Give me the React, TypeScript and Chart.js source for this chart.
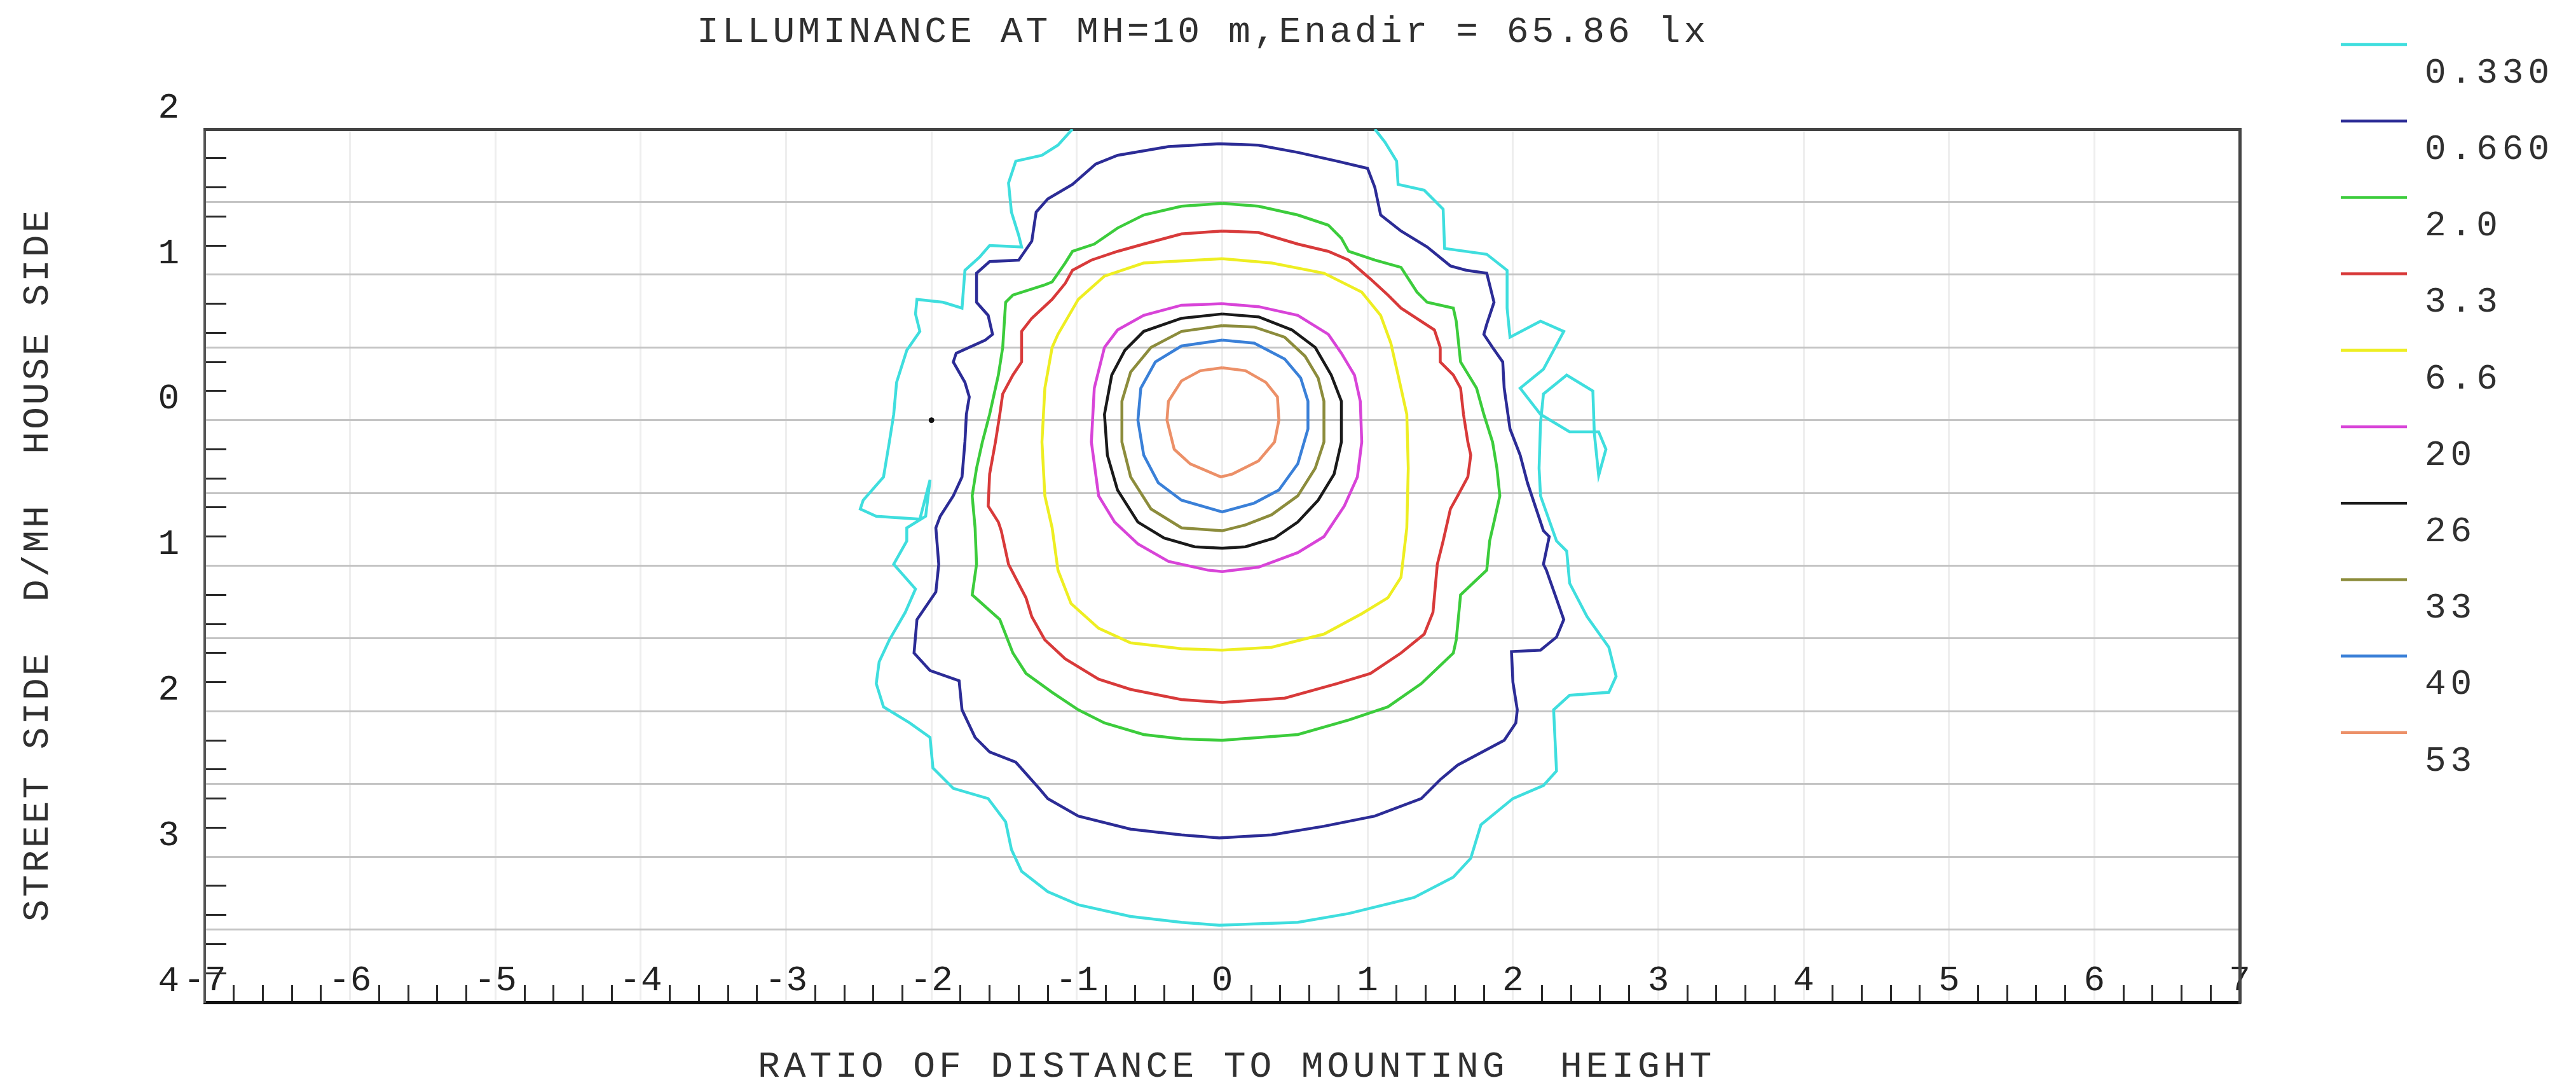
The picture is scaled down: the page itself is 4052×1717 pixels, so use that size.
import React, { useEffect, useRef } from 'react';
import { Chart, registerables } from 'chart.js';

Chart.register(...registerables);

const W = 4052;
const H = 1717;
const FONT = "'Liberation Mono', 'DejaVu Sans Mono', monospace";

// ---- texts ----
const chartTitle = 'ILLUMINANCE AT MH=10 m,Enadir = 65.86 lx';
const xAxisTitle = 'RATIO OF DISTANCE TO MOUNTING  HEIGHT';
const yAxisTitle = 'STREET SIDE  D/MH  HOUSE SIDE';

// ---- iso-lux levels ----
const levelLabels = ['0.330', '0.660', '2.0', '3.3', '6.6', '20', '26', '33', '40', '53'];
const levelColors = ['#3fdede', '#2c2c96', '#3ccc3c', '#d83a3a', '#eeee22', '#d844d8', '#1a1a1a', '#8c8c3c', '#3a80d8', '#ec9068'];

// ---- contour lines (x = D/MH across, y = D/MH house(+) / street(-)) ----
const iso0330 = [
  [-1.03, 2.0], [-1.13, 1.89], [-1.24, 1.82], [-1.42, 1.78], [-1.47, 1.63], [-1.45, 1.43], [-1.40, 1.27], [-1.38, 1.19],
  [-1.60, 1.20], [-1.67, 1.12], [-1.77, 1.03], [-1.79, 0.77], [-1.92, 0.81], [-2.10, 0.83], [-2.11, 0.73], [-2.08, 0.61],
  [-2.17, 0.48], [-2.24, 0.26], [-2.26, 0.04], [-2.29, -0.15], [-2.33, -0.39], [-2.47, -0.55], [-2.49, -0.61], [-2.38, -0.66],
  [-2.08, -0.68], [-2.01, -0.41], [-2.04, -0.66], [-2.17, -0.74], [-2.17, -0.83], [-2.26, -0.99], [-2.11, -1.16], [-2.18, -1.32],
  [-2.29, -1.51], [-2.36, -1.66], [-2.38, -1.81], [-2.33, -1.97], [-2.15, -2.08], [-2.01, -2.18], [-1.99, -2.39], [-1.85, -2.53],
  [-1.61, -2.60], [-1.49, -2.76], [-1.45, -2.95], [-1.38, -3.10], [-1.20, -3.24], [-0.99, -3.33], [-0.63, -3.41], [-0.28, -3.45],
  [-0.02, -3.47], [0.52, -3.45], [0.87, -3.39], [1.32, -3.28], [1.59, -3.14], [1.71, -3.01], [1.78, -2.78], [2.00, -2.60],
  [2.21, -2.51], [2.30, -2.41], [2.28, -1.99], [2.39, -1.89], [2.66, -1.87], [2.71, -1.76], [2.66, -1.56], [2.51, -1.35],
  [2.39, -1.12], [2.37, -0.90], [2.30, -0.83], [2.19, -0.52], [2.18, -0.33], [2.19, -0.02], [2.21, 0.18], [2.37, 0.31],
  [2.55, 0.20], [2.56, -0.09], [2.59, -0.38], [2.64, -0.20], [2.59, -0.08], [2.39, -0.08], [2.19, 0.04], [2.05, 0.22],
  [2.21, 0.35], [2.35, 0.61], [2.19, 0.68], [1.98, 0.57], [1.96, 0.77], [1.96, 1.03], [1.82, 1.14], [1.53, 1.18],
  [1.52, 1.45], [1.39, 1.58], [1.21, 1.62], [1.20, 1.78], [1.12, 1.91], [1.05, 2.0],
];
const iso0660 = [
  [-0.02, 1.90], [-0.37, 1.88], [-0.72, 1.82], [-0.87, 1.76], [-1.03, 1.62], [-1.20, 1.52], [-1.28, 1.43], [-1.31, 1.23],
  [-1.40, 1.10], [-1.60, 1.09], [-1.69, 1.01], [-1.69, 0.81], [-1.61, 0.72], [-1.58, 0.59], [-1.63, 0.55], [-1.83, 0.46],
  [-1.85, 0.40], [-1.77, 0.26], [-1.74, 0.16], [-1.76, 0.04], [-1.77, -0.15], [-1.79, -0.39], [-1.85, -0.52], [-1.94, -0.66],
  [-1.97, -0.74], [-1.95, -0.99], [-1.97, -1.18], [-2.10, -1.37], [-2.12, -1.60], [-2.01, -1.72], [-1.81, -1.79], [-1.79, -1.99],
  [-1.70, -2.18], [-1.60, -2.28], [-1.42, -2.35], [-1.26, -2.53], [-1.20, -2.60], [-0.99, -2.72], [-0.63, -2.81], [-0.28, -2.85],
  [-0.02, -2.87], [0.34, -2.85], [0.70, -2.79], [1.05, -2.72], [1.37, -2.60], [1.50, -2.47], [1.62, -2.37], [1.94, -2.20],
  [2.02, -2.08], [2.03, -1.99], [2.00, -1.80], [1.99, -1.59], [2.19, -1.58], [2.30, -1.49], [2.35, -1.37], [2.23, -1.03],
  [2.21, -0.99], [2.25, -0.80], [2.21, -0.76], [2.16, -0.61], [2.10, -0.43], [2.05, -0.24], [1.98, -0.06], [1.94, 0.22],
  [1.93, 0.40], [1.86, 0.50], [1.80, 0.59], [1.82, 0.66], [1.87, 0.81], [1.82, 1.01], [1.68, 1.03], [1.57, 1.06],
  [1.41, 1.19], [1.23, 1.30], [1.09, 1.41], [1.05, 1.60], [1.00, 1.73], [0.79, 1.78], [0.52, 1.84], [0.25, 1.89], [-0.02, 1.90],
];
const iso2 = [
  [0.00, 1.49], [-0.28, 1.47], [-0.54, 1.41], [-0.72, 1.32], [-0.88, 1.21], [-1.03, 1.16], [-1.08, 1.08], [-1.17, 0.95],
  [-1.22, 0.93], [-1.44, 0.86], [-1.49, 0.81], [-1.51, 0.50], [-1.54, 0.31], [-1.60, 0.04], [-1.65, -0.15], [-1.69, -0.33],
  [-1.72, -0.52], [-1.70, -0.74], [-1.69, -0.99], [-1.72, -1.20], [-1.53, -1.37], [-1.44, -1.60], [-1.35, -1.74], [-1.17, -1.87],
  [-0.99, -1.99], [-0.81, -2.08], [-0.54, -2.16], [-0.28, -2.19], [0.00, -2.20], [0.52, -2.16], [0.87, -2.06], [1.14, -1.97],
  [1.37, -1.81], [1.59, -1.60], [1.61, -1.51], [1.64, -1.20], [1.82, -1.03], [1.84, -0.83], [1.87, -0.70], [1.91, -0.52],
  [1.89, -0.33], [1.86, -0.15], [1.80, 0.04], [1.75, 0.22], [1.64, 0.40], [1.61, 0.68], [1.59, 0.77], [1.41, 0.81],
  [1.34, 0.88], [1.23, 1.05], [1.05, 1.10], [0.87, 1.16], [0.82, 1.25], [0.73, 1.34], [0.52, 1.41], [0.25, 1.47], [0.00, 1.49],
];
const iso3p3 = [
  [0.00, 1.30], [-0.28, 1.28], [-0.54, 1.21], [-0.72, 1.16], [-0.90, 1.10], [-1.03, 1.03], [-1.08, 0.94], [-1.17, 0.83],
  [-1.31, 0.70], [-1.38, 0.61], [-1.38, 0.40], [-1.44, 0.31], [-1.51, 0.18], [-1.53, 0.04], [-1.56, -0.15], [-1.60, -0.37],
  [-1.61, -0.59], [-1.54, -0.70], [-1.52, -0.76], [-1.47, -0.99], [-1.35, -1.22], [-1.31, -1.35], [-1.22, -1.51], [-1.08, -1.64],
  [-0.85, -1.78], [-0.63, -1.85], [-0.28, -1.92], [0.00, -1.94], [0.43, -1.91], [0.79, -1.81], [1.02, -1.74], [1.23, -1.60],
  [1.39, -1.47], [1.45, -1.32], [1.48, -0.99], [1.52, -0.83], [1.57, -0.61], [1.62, -0.52], [1.69, -0.39], [1.71, -0.24],
  [1.69, -0.15], [1.66, 0.04], [1.64, 0.22], [1.59, 0.31], [1.50, 0.40], [1.50, 0.50], [1.46, 0.62], [1.23, 0.77],
  [1.14, 0.86], [1.02, 0.97], [0.87, 1.10], [0.73, 1.16], [0.52, 1.21], [0.25, 1.29], [0.00, 1.30],
];
const iso6p6 = [
  [0.00, 1.11], [-0.54, 1.08], [-0.81, 0.99], [-0.99, 0.83], [-1.13, 0.59], [-1.17, 0.50], [-1.22, 0.22], [-1.24, -0.15],
  [-1.22, -0.52], [-1.17, -0.74], [-1.13, -1.03], [-1.04, -1.26], [-0.85, -1.43], [-0.63, -1.53], [-0.28, -1.57], [0.00, -1.58],
  [0.34, -1.56], [0.70, -1.47], [0.96, -1.33], [1.14, -1.22], [1.23, -1.08], [1.27, -0.74], [1.28, -0.33], [1.27, 0.04],
  [1.21, 0.31], [1.16, 0.53], [1.09, 0.72], [0.96, 0.88], [0.70, 1.01], [0.34, 1.08], [0.00, 1.11],
];
const iso20 = [
  [0.00, 0.80], [-0.28, 0.79], [-0.54, 0.72], [-0.72, 0.62], [-0.81, 0.50], [-0.88, 0.22], [-0.90, -0.15], [-0.85, -0.52],
  [-0.74, -0.70], [-0.58, -0.85], [-0.37, -0.97], [-0.10, -1.03], [0.00, -1.04], [0.25, -1.01], [0.52, -0.91], [0.70, -0.80],
  [0.84, -0.59], [0.93, -0.39], [0.96, -0.15], [0.95, 0.13], [0.91, 0.31], [0.82, 0.46], [0.73, 0.59], [0.52, 0.72],
  [0.25, 0.78], [0.00, 0.80],
];
const iso26 = [
  [0.00, 0.73], [-0.28, 0.70], [-0.54, 0.61], [-0.67, 0.48], [-0.76, 0.31], [-0.81, 0.04], [-0.79, -0.24], [-0.72, -0.48],
  [-0.58, -0.70], [-0.40, -0.81], [-0.19, -0.87], [0.00, -0.88], [0.16, -0.87], [0.36, -0.81], [0.52, -0.70], [0.66, -0.55],
  [0.77, -0.37], [0.82, -0.15], [0.82, 0.13], [0.75, 0.31], [0.64, 0.50], [0.48, 0.62], [0.25, 0.71], [0.00, 0.73],
];
const iso33 = [
  [0.00, 0.65], [-0.28, 0.61], [-0.49, 0.50], [-0.63, 0.33], [-0.69, 0.13], [-0.69, -0.15], [-0.63, -0.39], [-0.49, -0.61],
  [-0.28, -0.74], [0.00, -0.76], [0.16, -0.72], [0.34, -0.65], [0.52, -0.52], [0.64, -0.33], [0.70, -0.15], [0.70, 0.13],
  [0.66, 0.29], [0.57, 0.44], [0.43, 0.57], [0.22, 0.64], [0.00, 0.65],
];
const iso40 = [
  [0.00, 0.55], [-0.28, 0.51], [-0.46, 0.40], [-0.56, 0.22], [-0.58, 0.00], [-0.54, -0.24], [-0.44, -0.43], [-0.28, -0.55],
  [0.00, -0.63], [0.22, -0.57], [0.39, -0.48], [0.52, -0.30], [0.59, -0.06], [0.59, 0.13], [0.54, 0.29], [0.43, 0.42],
  [0.22, 0.53], [0.00, 0.55],
];
const iso53 = [
  [0.00, 0.36], [-0.15, 0.34], [-0.28, 0.27], [-0.37, 0.13], [-0.38, 0.00], [-0.33, -0.20], [-0.22, -0.30], [-0.01, -0.39],
  [0.07, -0.37], [0.25, -0.28], [0.36, -0.15], [0.39, 0.00], [0.38, 0.16], [0.30, 0.26], [0.16, 0.34], [0.00, 0.36],
];
const luminaireMark = [[-2.0, 0.0]];

const contours = [iso0330, iso0660, iso2, iso3p3, iso6p6, iso20, iso26, iso33, iso40, iso53];

// ---- axis ranges / ticks ----
const xRange = [-7, 7];
const yRange = [-4, 2];
const minorStep = 0.2;
const gridStepY = 0.5;

const isInt = (v: number) => Math.abs(v - Math.round(v)) < 1e-6;

const textPlugin = {
  id: 'photometricTexts',
  afterDraw(chart: any) {
    const ctx = chart.ctx as CanvasRenderingContext2D;
    ctx.save();
    ctx.fillStyle = '#303030';
    ctx.textBaseline = 'middle';
    ctx.textAlign = 'left';
    ctx.font = `58px ${FONT}`;
    (ctx as any).letterSpacing = '5px';
    ctx.fillText(chartTitle, 1096, 51);

    (ctx as any).letterSpacing = '5.9px';
    ctx.fillText(xAxisTitle, 1192, 1678);

    ctx.save();
    ctx.translate(60, 888);
    ctx.rotate(-Math.PI / 2);
    ctx.textAlign = 'center';
    (ctx as any).letterSpacing = '3.9px';
    ctx.fillText(yAxisTitle, 0, 0);
    ctx.restore();

    // legend
    ctx.font = `56px ${FONT}`;
    (ctx as any).letterSpacing = '7px';
    ctx.textAlign = 'left';
    levelLabels.forEach((lab, i) => {
      const y = 70 + 120.2 * i;
      ctx.beginPath();
      ctx.strokeStyle = levelColors[i];
      ctx.lineWidth = 4.5;
      ctx.moveTo(3682, y);
      ctx.lineTo(3786, y);
      ctx.stroke();
      ctx.fillText(lab, 3814, y + 45);
    });
    ctx.restore();
  },
};

export default function App() {
  const ref = useRef<HTMLCanvasElement | null>(null);

  useEffect(() => {
    if (!ref.current) return;
    const datasets: any[] = contours.map((pts, i) => ({
      label: levelLabels[i],
      data: pts.map(([x, y]) => ({ x, y })),
      showLine: true,
      borderColor: levelColors[i],
      backgroundColor: levelColors[i],
      borderWidth: 4.5,
      pointRadius: 0,
      pointHoverRadius: 0,
      fill: false,
      tension: 0,
    }));
    datasets.push({
      label: 'luminaire',
      data: luminaireMark.map(([x, y]) => ({ x, y })),
      showLine: false,
      pointRadius: 4,
      backgroundColor: '#111111',
      borderColor: '#111111',
    });

    const tickFont = { family: FONT, size: 56 };

    const chart = new Chart(ref.current, {
      type: 'scatter',
      data: { datasets },
      plugins: [textPlugin],
      options: {
        animation: false,
        responsive: false,
        devicePixelRatio: 1,
        layout: { padding: { left: 0, top: 203, right: 529, bottom: 141 } },
        plugins: { legend: { display: false }, tooltip: { enabled: false }, title: { display: false } },
        scales: {
          x: {
            type: 'linear',
            position: 'bottom',
            min: xRange[0],
            max: xRange[1],
            ticks: {
              stepSize: minorStep,
              autoSkip: false,
              maxRotation: 0,
              minRotation: 0,
              mirror: true,
              padding: 0,
              color: '#222222',
              font: tickFont,
              callback: (v: any) => (isInt(Number(v)) ? String(Math.round(Number(v))) : ''),
            },
            grid: {
              display: true,
              drawOnChartArea: true,
              drawTicks: true,
              tickLength: -27,
              lineWidth: 3,
              tickWidth: 3,
              color: (c: any) => {
                const v = c.tick ? c.tick.value : NaN;
                if (!isInt(v) || Math.abs(v) >= 7) return 'rgba(0,0,0,0)';
                return '#eeeeee';
              },
              tickColor: (c: any) => {
                const v = c.tick ? c.tick.value : NaN;
                return isInt(v) ? 'rgba(0,0,0,0)' : '#2a2a2a';
              },
            },
            border: { display: true, color: '#111111', width: 5 },
            afterFit: (s: any) => {
              s.height = 0;
              s.paddingLeft = 0;
              s.paddingRight = 0;
            },
          },
          y: {
            type: 'linear',
            position: 'left',
            min: yRange[0],
            max: yRange[1],
            ticks: {
              stepSize: minorStep,
              autoSkip: false,
              padding: 74,
              labelOffset: -33,
              color: '#222222',
              font: tickFont,
              callback: (v: any) => (isInt(Number(v)) ? String(Math.abs(Math.round(Number(v)))) : ''),
            },
            grid: {
              display: true,
              drawOnChartArea: false,
              drawTicks: true,
              tickLength: -34,
              tickWidth: 3,
              tickColor: (c: any) => {
                const v = c.tick ? c.tick.value : NaN;
                return isInt(v) ? 'rgba(0,0,0,0)' : '#2a2a2a';
              },
            },
            border: { display: true, color: '#555555', width: 4 },
            afterFit: (s: any) => {
              s.width = 322;
              s.paddingTop = 0;
              s.paddingBottom = 0;
            },
          },
          y2: {
            type: 'linear',
            position: 'right',
            min: yRange[0],
            max: yRange[1],
            ticks: { display: false, stepSize: gridStepY, autoSkip: false },
            grid: {
              display: true,
              drawOnChartArea: true,
              drawTicks: false,
              lineWidth: 3,
              color: (c: any) => {
                const v = c.tick ? c.tick.value : NaN;
                if (!(v > yRange[0] + 1e-6 && v < yRange[1] - 1e-6)) return 'rgba(0,0,0,0)';
                return '#c4c4c4';
              },
            },
            border: { display: true, color: '#444444', width: 5 },
            afterFit: (s: any) => {
              s.width = 0;
              s.paddingTop = 0;
              s.paddingBottom = 0;
            },
          },
          x2: {
            type: 'linear',
            position: 'top',
            min: xRange[0],
            max: xRange[1],
            ticks: { display: false },
            grid: { display: false },
            border: { display: true, color: '#444444', width: 5 },
            afterFit: (s: any) => {
              s.height = 0;
              s.paddingLeft = 0;
              s.paddingRight = 0;
            },
          },
        },
      } as any,
    });
    return () => chart.destroy();
  }, []);

  return (
    <div style={{ position: 'fixed', left: 0, top: 0, width: W, height: H, background: '#ffffff' }}>
      <canvas ref={ref} width={W} height={H} style={{ display: 'block', width: W, height: H }} />
    </div>
  );
}
